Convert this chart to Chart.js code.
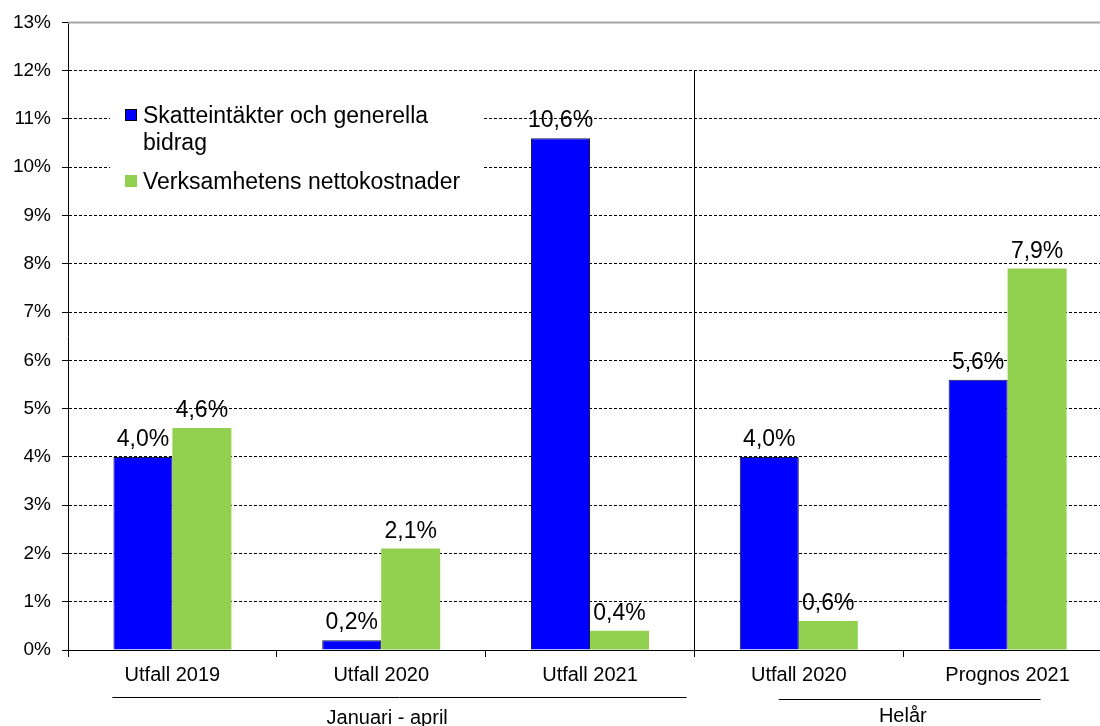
<!DOCTYPE html>
<html>
<head>
<meta charset="utf-8">
<script src="https://cdn.jsdelivr.net/npm/chart.js@4"></script>
<style>
  body { margin: 0; background: #fff; overflow: hidden; }
</style>
</head>
<body>
<canvas id="myChart" width="1112" height="726"></canvas>
<script>
const categories = ['Utfall 2019', 'Utfall 2020', 'Utfall 2021', 'Utfall 2020', 'Prognos 2021'];
const skatt = [4.0, 0.2, 10.6, 4.0, 5.6];
const netto = [4.6, 2.1, 0.4, 0.6, 7.9];
const seriesNames = ['Skatteintäkter och generella bidrag', 'Verksamhetens nettokostnader'];
const groups = ['Januari - april', 'Helår'];
const yTicks = [0, 1, 2, 3, 4, 5, 6, 7, 8, 9, 10, 11, 12, 13];

const FONT = "'Liberation Sans', Arial, sans-serif";

// value labels above every bar
const valueLabels = {
    id: 'valueLabels',
    afterDatasetsDraw(chart) {
        const ctx = chart.ctx;
        ctx.save();
        ctx.font = '23px ' + FONT;
        ctx.fillStyle = '#000';
        ctx.textAlign = 'center';
        ctx.textBaseline = 'alphabetic';
        chart.data.datasets.forEach((ds, i) => {
            chart.getDatasetMeta(i).data.forEach((bar, j) => {
                const txt = ds.data[j].toFixed(1).replace('.', ',') + '%';
                ctx.fillText(txt, bar.x, bar.y - 11);
            });
        });
        ctx.restore();
    }
};

// legend box inside the plot, separator line and group labels
const extras = {
    id: 'extras',
    afterDraw(chart) {
        const ctx = chart.ctx;
        const x = chart.scales.x;
        const y = chart.scales.y;
        ctx.save();

        // solid grey line at the top
        ctx.strokeStyle = '#a6a6a6';
        ctx.lineWidth = 2;
        ctx.beginPath();
        ctx.moveTo(x.left, y.getPixelForValue(13));
        ctx.lineTo(x.right, y.getPixelForValue(13));
        ctx.stroke();

        // separator between the two groups
        const sep = Math.round((x.getPixelForValue(2) + x.getPixelForValue(3)) / 2) + 0.5;
        ctx.strokeStyle = '#000';
        ctx.lineWidth = 1;
        ctx.beginPath();
        ctx.moveTo(sep, y.getPixelForValue(12));
        ctx.lineTo(sep, y.bottom + 7);
        ctx.stroke();

        // legend
        ctx.fillStyle = '#fff';
        ctx.fillRect(x.left + 42, 96, 372, 108);
        ctx.font = '23px ' + FONT;
        ctx.textAlign = 'left';
        ctx.textBaseline = 'alphabetic';
        const lx = x.left + 57;
        const rows = [[seriesNames[0].replace(' bidrag', ''), 'bidrag'], [seriesNames[1]]];
        const tops = [109, 175];
        rows.forEach((lines, i) => {
            const ds = chart.data.datasets[i];
            ctx.fillStyle = ds.backgroundColor;
            ctx.fillRect(lx, tops[i], 12, 12);
            ctx.strokeStyle = '#000';
            ctx.lineWidth = 1;
            if (i === 0) ctx.strokeRect(lx + 0.5, tops[i] + 0.5, 11, 11);
            ctx.fillStyle = '#000';
            lines.forEach((t, k) => ctx.fillText(t, lx + 18, tops[i] + 14 + k * 27));
        });

        // group labels with lines
        ctx.strokeStyle = '#000';
        ctx.lineWidth = 1;
        ctx.beginPath();
        ctx.moveTo(x.getPixelForValue(0) - 60, 697.5);
        ctx.lineTo(sep - 8, 697.5);
        ctx.moveTo(x.getPixelForValue(3) - 20, 699.5);
        ctx.lineTo(x.getPixelForValue(4) + 33, 699.5);
        ctx.stroke();
        ctx.fillStyle = '#000';
        ctx.font = '20px ' + FONT;
        ctx.textAlign = 'center';
        ctx.fillText(groups[0], x.getPixelForValue(1) + 6, 724);
        ctx.fillText(groups[1], x.getPixelForValue(3) + 104, 722);
        ctx.restore();
    }
};

new Chart(document.getElementById('myChart'), {
    type: 'bar',
    data: {
        labels: categories,
        datasets: [
            { label: seriesNames[0], data: skatt, backgroundColor: '#0000ff', borderColor: '#1a1a40', borderWidth: 1 },
            { label: seriesNames[1], data: netto, backgroundColor: '#92d050', borderWidth: 0 }
        ]
    },
    options: {
        responsive: false,
        animation: false,
        layout: { padding: { top: 22, right: 0, left: 0, bottom: 0 } },
        categoryPercentage: 0.565,
        barPercentage: 1,
        plugins: {
            legend: { display: false },
            tooltip: { enabled: false }
        },
        scales: {
            x: {
                grid: { drawOnChartArea: false, drawTicks: true, tickLength: 7, color: '#000', offset: true },
                border: { color: '#000', width: 1 },
                ticks: { color: '#000', font: { family: FONT, size: 20 }, padding: 6 },
                afterFit(scale) { scale.height = 76; }
            },
            y: {
                min: 0,
                max: 13,
                afterBuildTicks(scale) { scale.ticks = yTicks.map(v => ({ value: v })); },
                grid: {
                    color: ctx => ctx.tick && ctx.tick.value === 13 ? 'rgba(0,0,0,0)' : '#000',
                    tickColor: '#000',
                    tickLength: 6,
                    tickBorderDash: []
                },
                border: { color: '#000', width: 1, dash: [3, 2] },
                ticks: {
                    color: '#000',
                    font: { family: FONT, size: 19 },
                    padding: 11,
                    callback: v => v + '%'
                },
                afterFit(scale) { scale.width = 68; }
            }
        }
    },
    plugins: [valueLabels, extras]
});
</script>
</body>
</html>
